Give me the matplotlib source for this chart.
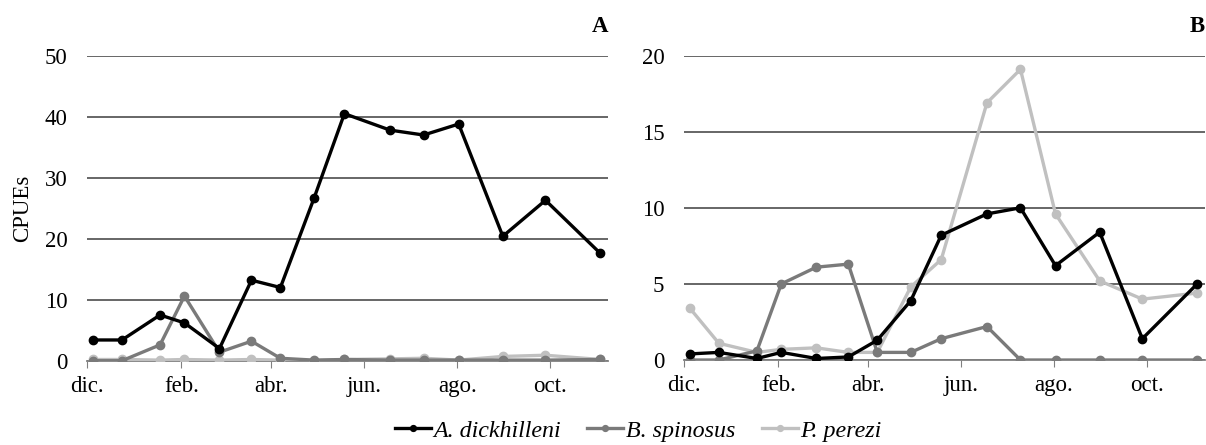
import numpy as np
import matplotlib.pyplot as plt

plt.rcParams["font.family"] = ["Liberation Serif", "DejaVu Serif"]
plt.rcParams["font.size"] = 16.5

# sampling dates (shared by both panels)
dates = np.array([
    "2009-12-05", "2009-12-24", "2010-01-18", "2010-02-03", "2010-02-26",
    "2010-03-19", "2010-04-07", "2010-04-29", "2010-05-19", "2010-06-18",
    "2010-07-10", "2010-08-02", "2010-08-31", "2010-09-28", "2010-11-03",
], dtype="datetime64[D]")

tick_dates = np.array(["2009-12-01", "2010-02-01", "2010-04-01",
                       "2010-06-01", "2010-08-01", "2010-10-01"], dtype="datetime64[D]")
tick_labels = ["dic.", "feb.", "abr.", "jun.", "ago.", "oct."]

species = ["A. dickhilleni", "B. spinosus", "P. perezi"]

# panel A
a_dick = [3.4, 3.4, 7.5, 6.2, 2.0, 13.2, 12.0, 26.6, 40.5, 37.8, 37.0, 38.8, 20.4, 26.3, 17.6]
a_spin = [0.0, 0.0, 2.6, 10.6, 1.4, 3.2, 0.4, 0.1, 0.2, 0.1, 0.1, 0.1, 0.1, 0.1, 0.2]
a_pere = [0.2, 0.2, 0.1, 0.2, 0.1, 0.2, 0.1, 0.0, 0.2, 0.3, 0.4, 0.1, 0.7, 0.9, 0.2]

# panel B
b_dick = [0.4, 0.5, 0.1, 0.5, 0.1, 0.2, 1.3, 3.9, 8.2, 9.6, 10.0, 6.2, 8.4, 1.4, 5.0]
b_spin = [0.0, 0.0, 0.6, 5.0, 6.1, 6.3, 0.5, 0.5, 1.4, 2.2, 0.0, 0.0, 0.0, 0.0, 0.0]
b_pere = [3.4, 1.1, 0.5, 0.7, 0.8, 0.5, 0.5, 4.8, 6.6, 16.9, 19.1, 9.6, 5.2, 4.0, 4.4]

colors = ["#000000", "#7a7a7a", "#c0c0c0"]
x_start = np.datetime64("2009-12-01")
x_end = np.datetime64("2010-11-08")

fig = plt.figure(figsize=(12.06, 4.45), dpi=100)
ax_a = fig.add_axes([0.0721, 0.1894, 0.432, 0.6854])
ax_b = fig.add_axes([0.567, 0.191, 0.432, 0.684])


def draw_panel(ax, series, yticks, letter):
    handles = {}
    # light series first so the black one sits on top
    for i in [2, 1, 0]:
        (ln,) = ax.plot(dates, series[i], "-o", color=colors[i], lw=2.4,
                        ms=6, label=species[i], zorder=3 + (2 - i))
        handles[i] = ln
    ax.set_ylim(yticks[0], yticks[-1])
    ax.set_yticks(yticks)
    ax.set_xlim(x_start, x_end)
    ax.set_xticks(tick_dates)
    ax.set_xticklabels(tick_labels)
    ax.grid(axis="y", color="#5a5a5a", lw=1.3)
    ax.set_axisbelow(True)
    for s in ["left", "right", "top"]:
        ax.spines[s].set_visible(False)
    ax.spines["bottom"].set_color("#808080")
    ax.spines["bottom"].set_linewidth(1.3)
    ax.tick_params(axis="y", length=0, pad=14)
    ax.tick_params(axis="x", direction="out", length=5, color="#808080", pad=6)
    ax.text(1.0, 1.06, letter, transform=ax.transAxes, ha="right", va="bottom",
            fontweight="bold", fontsize=16.5)
    return [handles[0], handles[1], handles[2]]


hs = draw_panel(ax_a, [a_dick, a_spin, a_pere], [0, 10, 20, 30, 40, 50], "A")
draw_panel(ax_b, [b_dick, b_spin, b_pere], [0, 5, 10, 15, 20], "B")
ax_a.set_ylabel("CPUEs", labelpad=8)

leg = fig.legend(hs, species, loc="center", bbox_to_anchor=(0.529, 0.032), ncol=3,
                 frameon=False, handlelength=1.5, handletextpad=0.1, columnspacing=1.1,
                 prop={"style": "italic", "size": 17.3}, markerscale=0.7)
for h in leg.get_lines():
    h.set_linewidth(2.4)

fig.savefig("out.png", dpi=100)
